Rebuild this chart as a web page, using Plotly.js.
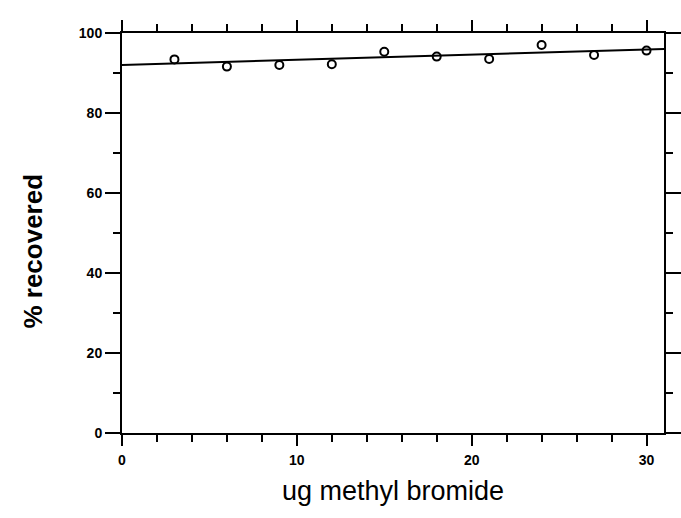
<!DOCTYPE html>
<html>
<head>
<meta charset="utf-8">
<script src="https://cdn.plot.ly/plotly-3.0.1.min.js"></script>
<style>html,body{margin:0;padding:0;background:#fff;}#chart{width:681px;height:518px;}</style>
</head>
<body>
<div id="chart"></div>
<script>
// Data
var amountUg = [3, 6, 9, 12, 15, 18, 21, 24, 27, 30];
var percentRecovered = [93.4, 91.6, 92.0, 92.2, 95.3, 94.1, 93.5, 97.0, 94.5, 95.6];
var fitX = [0, 31];
var fitY = [92.0, 96.0];
var xTickVals = [0, 10, 20, 30];
var yTickVals = [0, 20, 40, 60, 80, 100];

var tickFont = {family: 'Liberation Sans, Arial, sans-serif', size: 14, color: '#000', weight: 'bold'};

var traces = [
  {x: fitX, y: fitY, mode: 'lines', line: {color: '#000', width: 2}, hoverinfo: 'skip', showlegend: false},
  {x: amountUg, y: percentRecovered, mode: 'markers',
   marker: {symbol: 'circle-open', size: 8, color: '#000', line: {color: '#000', width: 2}}, showlegend: false}
];

var layout = {
  width: 681, height: 518,
  margin: {l: 122, r: 17, t: 33, b: 85},
  paper_bgcolor: '#fff', plot_bgcolor: '#fff',
  showlegend: false,
  xaxis: {
    range: [0, 31], showgrid: false, zeroline: false,
    showline: true, linecolor: '#000', linewidth: 2, mirror: 'allticks',
    ticks: 'outside', ticklen: 11, tickwidth: 2, tickcolor: '#000',
    tickvals: xTickVals, ticktext: xTickVals.map(String),
    tickfont: tickFont, ticklabelstandoff: 2,
    minor: {dtick: 2, ticks: 'outside', ticklen: 7, tickwidth: 2, tickcolor: '#000', showgrid: false},
    title: {text: 'ug methyl bromide', font: {family: 'Liberation Sans, Arial, sans-serif', size: 27, color: '#000'}, standoff: 14}
  },
  yaxis: {
    range: [0, 100], showgrid: false, zeroline: false,
    showline: true, linecolor: '#000', linewidth: 2, mirror: 'allticks',
    ticks: 'outside', ticklen: 15, tickwidth: 2, tickcolor: '#000',
    tickvals: yTickVals, ticktext: yTickVals.map(String),
    tickfont: tickFont,
    minor: {dtick: 10, ticks: 'outside', ticklen: 7, tickwidth: 2, tickcolor: '#000', showgrid: false}
  },
  annotations: [{
    text: '% recovered', textangle: -90, showarrow: false,
    xref: 'paper', yref: 'paper', x: -0.165, y: 0.455, xanchor: 'center', yanchor: 'middle',
    font: {family: 'Liberation Sans, Arial, sans-serif', size: 26, color: '#000', weight: 'bold'}
  }]
};

Plotly.newPlot('chart', traces, layout, {displayModeBar: false, staticPlot: true});
</script>
</body>
</html>
